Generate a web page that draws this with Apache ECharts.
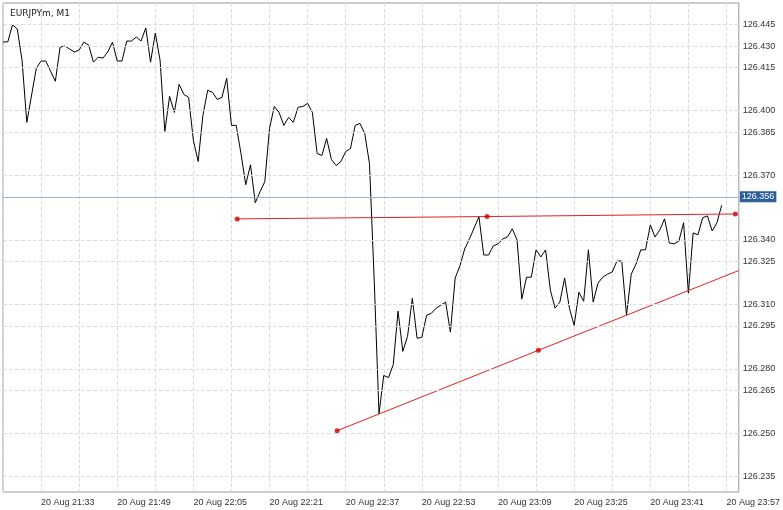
<!DOCTYPE html>
<html><head><meta charset="utf-8">
<script src="https://cdn.jsdelivr.net/npm/echarts@6/dist/echarts.min.js"></script>
<style>html,body{margin:0;padding:0;background:#fff}#c{width:783px;height:510px}</style>
</head><body><div id="c"></div>
<script>
// minutes after 20 Aug 21:33
const minutes = [-8,-7,-6,-5,-4,-3,-1,0,1,
3,4,5,6,7,8,9,10,11,12,13,14,15,16,17,18,19,20,21,22,23,24,25,26,27,28,29,30,31,32,33,34,35,36,37,38,39,40,41,42,
43,44,45,46,47,48,49,50,51,52,53,54,55,56,57,58,59,60,61,62,63,64,65,66,67,68,69,70,71,72,73,74,75,76,77,78,79,80,
81,82,83,84,85,86,87,88,89,90,91,92,93,94,95,96,97,98,99,100,101,102,103,104,105,106,107,108,109,110,111,112,113,
114,115,116,117,118,119,120,121,122,123,124,125,126,127,128,129,130,131,132,133,134,135,136,137,138,139,140,141,142,143];
const prices = [126.432,126.432,126.440,126.438,126.4235,126.3946,126.4198,126.4231,126.4231,
126.4137,126.4296,126.4301,126.4287,126.4273,126.4282,126.4319,126.4305,126.4226,126.4249,126.4245,126.4273,126.4319,126.4231,126.4231,126.4324,126.4324,126.4343,126.4324,126.4385,126.4226,126.4361,126.4235,126.3904,126.4067,126.3992,126.4123,126.4076,126.4062,126.3862,126.3764,126.3978,126.4095,126.4086,126.4053,126.4062,126.4151,126.3932,126.3932,126.3801,
126.3656,126.3749,126.3572,126.3623,126.3670,126.3918,126.4020,126.3992,126.3932,126.3969,126.3946,126.4016,126.4020,126.4034,126.3992,126.3801,126.3792,126.3871,126.3773,126.3745,126.3764,126.3810,126.3824,126.3932,126.3941,126.3894,126.3754,126.3208,126.2591,126.2769,126.2759,126.2820,126.3068,126.2881,126.2951,126.3128,126.2942,126.2946,
126.3049,126.3058,126.3082,126.3096,126.3110,126.2970,126.3222,126.3278,126.3357,126.3404,126.3455,126.3507,126.3329,126.3329,126.3371,126.3381,126.3404,126.3413,126.3451,126.3399,126.3124,126.3226,126.3226,126.3353,126.3320,126.3353,126.3166,126.3082,126.3110,126.3222,126.3082,126.3002,126.3156,
126.3114,126.3353,126.3110,126.3198,126.3226,126.3240,126.3250,126.3301,126.3301,126.3049,126.3240,126.3287,126.3353,126.3353,126.3469,126.3413,126.3446,126.3497,126.3385,126.3381,126.3394,126.3479,126.3152,126.3432,126.3423,126.3502,126.3511,126.3441,126.3479,126.356];
const priceTicks = [126.235,126.250,126.265,126.280,126.295,126.310,126.325,126.340,126.355,126.370,126.385,126.400,126.415,126.430,126.445];
const currentPrice = 126.356;
const upperTrend = [[41.2,126.3497],[93.7,126.3508],[145.9,126.352]];
const lowerTrend = [[62.2,126.2512],[104.5,126.2886],[146.6,126.3257]];
const upperDots = [[41.2,126.3497],[93.7,126.3508],[145.9,126.352]];
const lowerDots = [[62.2,126.2512],[104.5,126.2886]];

const pts = minutes.map((m,i)=>[m,prices[i]]);
function fmtTime(v){const t=21*60+33+v;const h=Math.floor(t/60),mm=t%60;return '20 Aug '+h+':'+(mm<10?'0':'')+mm;}
const chart = echarts.init(document.getElementById('c'));
chart.setOption({
  animation:false,
  title:{text:'EURJPYm, M1',left:5,top:4,textStyle:{fontSize:9,fontWeight:'normal',color:'#222',fontFamily:'DejaVu Sans'}},
  grid:{left:3,right:38,top:3,bottom:18,show:true,borderColor:'#999',borderWidth:1},
  xAxis:{type:'value',min:-8,max:146.6,interval:8,
    axisLine:{show:false},axisTick:{show:false},
    splitLine:{show:true,lineStyle:{color:'#ddd',type:'dashed'}},
    axisLabel:{fontSize:9,color:'#333',align:'left',margin:6,showMinLabel:false,showMaxLabel:false,
      formatter:v=>(v%16===0?fmtTime(v):'')}},
  yAxis:{type:'value',position:'right',min:126.2227,max:126.4501,
    axisLine:{show:false},splitLine:{show:false},axisTick:{show:false},axisLabel:{show:false}},
  series:[
    {type:'line',data:pts,symbol:'none',lineStyle:{color:'#000',width:1},z:3,
     markLine:{silent:true,symbol:'none',animation:false,
       data:priceTicks.map(p=>({yAxis:p,lineStyle:{color:'#ddd',type:'dashed',width:1},
          label:{show:true,position:'end',formatter:p.toFixed(3),fontSize:9,color:'#333',distance:4}}))
        .concat([{yAxis:currentPrice,lineStyle:{color:'#9fb4d2',type:'solid',width:1},
          label:{show:true,position:'end',formatter:'126.356',fontSize:9,color:'#fff',backgroundColor:'#2e5e99',padding:[1,2],distance:1}}])}},
    {type:'line',data:upperTrend,symbol:'none',lineStyle:{color:'#e32020',width:1},z:4},
    {type:'line',data:lowerTrend,symbol:'none',lineStyle:{color:'#e32020',width:1},z:4},
    {type:'scatter',data:upperDots.concat(lowerDots),symbolSize:5,itemStyle:{color:'#cc0000'},z:5}
  ]
});
</script></body></html>
